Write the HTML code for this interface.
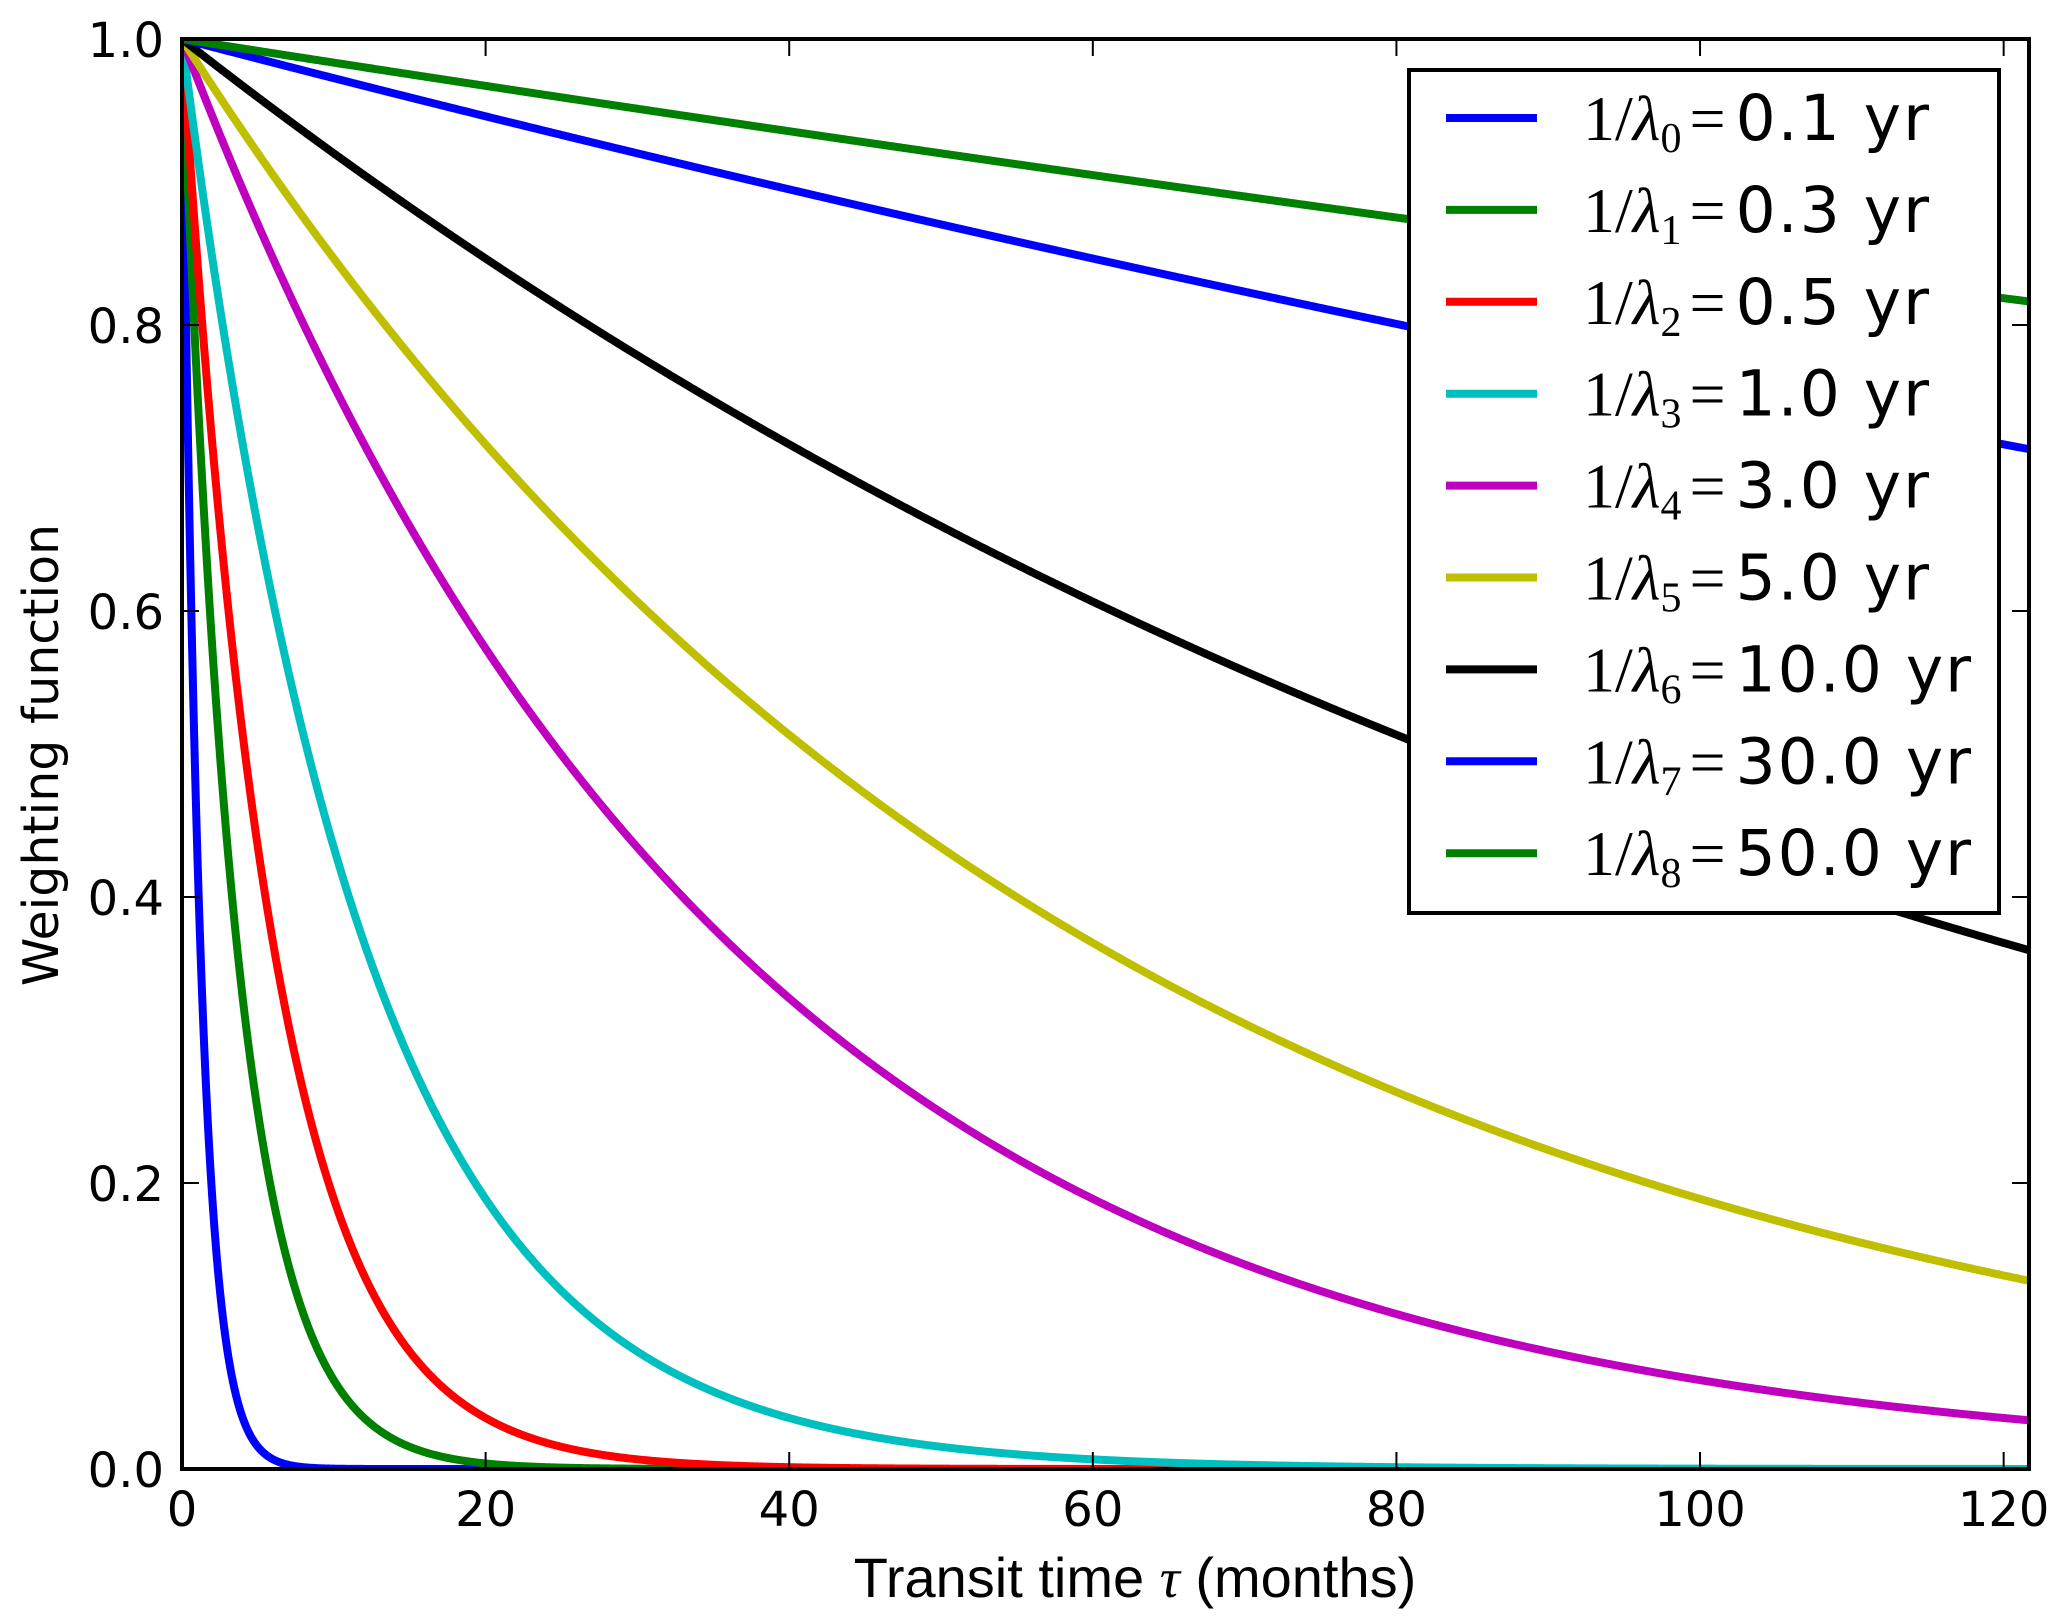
<!DOCTYPE html>
<html><head><meta charset="utf-8"><style>
html,body{margin:0;padding:0;background:#fff;}
svg{display:block;}
</style></head><body>
<svg id="chart" width="2067" height="1620" viewBox="0 0 2067 1620" xmlns="http://www.w3.org/2000/svg">
<rect x="0" y="0" width="2067" height="1620" fill="#fff"/>
<defs><clipPath id="plotclip"><rect x="182" y="39" width="1847" height="1430"/></clipPath></defs>
<g id="curves" clip-path="url(#plotclip)"></g>
<g id="axes"></g>
<g id="legend"></g>
<text x="1135" y="1597" text-anchor="middle" font-family="Liberation Sans, DejaVu Sans, sans-serif" font-size="56">Transit time <tspan font-family="Liberation Serif, serif" font-style="italic">τ</tspan> (months)</text>
<text transform="translate(58,755) rotate(-90)" text-anchor="middle" font-family="DejaVu Sans, Liberation Sans, sans-serif" font-size="49">Weighting function</text>
</svg>
<script>
const timescalesYr = [0.1, 0.3, 0.5, 1.0, 3.0, 5.0, 10.0, 30.0, 50.0];
const seriesLabels = ["0.1", "0.3", "0.5", "1.0", "3.0", "5.0", "10.0", "30.0", "50.0"];
const seriesColors = ["#0000ff", "#008000", "#ff0000", "#00bfbf", "#bf00bf", "#bfbf00", "#000000", "#0000ff", "#008000"];
const xTicks = [0, 20, 40, 60, 80, 100, 120];
const yTicks = [0.0, 0.2, 0.4, 0.6, 0.8, 1.0];
const yTickLabels = ["0.0", "0.2", "0.4", "0.6", "0.8", "1.0"];

const NS = "http://www.w3.org/2000/svg";
const L = 182, R = 2029, T = 39, B = 1469;
const xMax = 121.67;
function xs(v){ return L + v / xMax * (R - L); }
function ys(v){ return B - v * (B - T); }
function mk(tag, attrs, parent){ const e = document.createElementNS(NS, tag); for (const k in attrs) e.setAttribute(k, attrs[k]); parent.appendChild(e); return e; }

const curves = document.getElementById('curves');
timescalesYr.forEach((ty, i) => {
  const tau = ty * 12;
  let d = "";
  const n = 1500;
  for (let k = 0; k <= n; k++) {
    const t = xMax * Math.pow(k / n, 1.6);
    const v = Math.exp(-t / tau);
    d += (k ? "L" : "M") + xs(t).toFixed(2) + "," + ys(v).toFixed(2);
  }
  const p = mk('path', {d: d, fill: 'none', stroke: seriesColors[i], 'stroke-width': 8, 'stroke-linejoin': 'round'}, curves);
  
  
});

const axes = document.getElementById('axes');
xTicks.forEach((v, i) => {
  const x = xs(v);
  const t1 = mk('line', {x1: x, x2: x, y1: B, y2: B - 17, stroke: '#000', 'stroke-width': 2}, axes);
  
  
  const t2 = mk('line', {x1: x, x2: x, y1: T, y2: T + 17, stroke: '#000', 'stroke-width': 2}, axes);
  
  
  const tx = mk('text', {x: x, y: 1526, 'text-anchor': 'middle', 'font-family': 'DejaVu Sans, Liberation Sans, sans-serif', 'font-size': 48}, axes);
  tx.textContent = String(v);
  
  
});
yTicks.forEach((v, i) => {
  const y = ys(v);
  const t1 = mk('line', {x1: L, x2: L + 17, y1: y, y2: y, stroke: '#000', 'stroke-width': 2}, axes);
  
  
  const t2 = mk('line', {x1: R, x2: R - 17, y1: y, y2: y, stroke: '#000', 'stroke-width': 2}, axes);
  
  
  const tx = mk('text', {x: 164, y: y + 18, 'text-anchor': 'end', 'font-family': 'DejaVu Sans, Liberation Sans, sans-serif', 'font-size': 48}, axes);
  tx.textContent = yTickLabels[i];
  
  
});
const frame = mk('rect', {x: L, y: T, width: R - L, height: B - T, fill: 'none', stroke: '#000', 'stroke-width': 4}, axes);



const lg = document.getElementById('legend');
const box = mk('rect', {x: 1409, y: 70, width: 590, height: 843, fill: '#fff', stroke: '#000', 'stroke-width': 4}, lg);


seriesLabels.forEach((lab, i) => {
  const y = 118 + i * 91.9;
  const h = mk('line', {x1: 1446, x2: 1537, y1: y, y2: y, stroke: seriesColors[i], 'stroke-width': 8}, lg);
  
  
  const t = mk('text', {x: 1583, y: y + 22, 'font-size': 64, 'font-family': 'Liberation Serif, serif'}, lg);
  
  
  t.innerHTML = '1/<tspan font-style="italic">λ</tspan><tspan font-size="42" dy="12">' + i + '</tspan><tspan dy="-12" dx="8">=</tspan><tspan dx="10" font-family="DejaVu Sans, Liberation Sans, sans-serif" font-size="63" letter-spacing="2">' + lab + ' yr</tspan>';
});
</script>
</body></html>
